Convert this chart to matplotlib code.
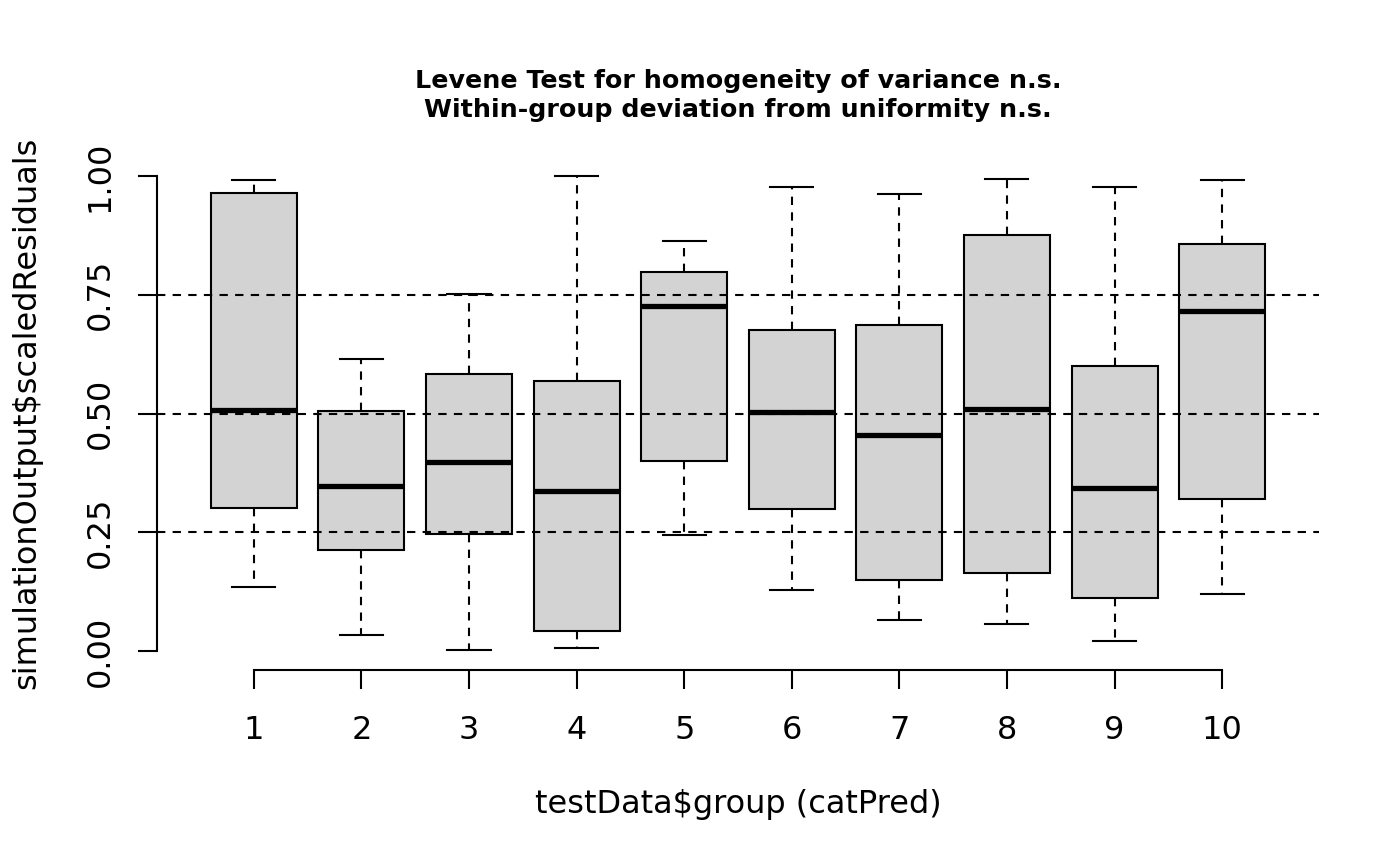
import matplotlib
matplotlib.use("Agg")
import matplotlib.pyplot as plt

# box statistics per group
groups = [1, 2, 3, 4, 5, 6, 7, 8, 9, 10]
whisker_low = [0.135, 0.034, 0.002, 0.006, 0.244, 0.128, 0.065, 0.057, 0.021, 0.120]
q1 = [0.301, 0.213, 0.246, 0.042, 0.400, 0.299, 0.149, 0.164, 0.112, 0.320]
medians = [0.507, 0.347, 0.398, 0.337, 0.726, 0.503, 0.455, 0.509, 0.343, 0.716]
q3 = [0.964, 0.505, 0.583, 0.568, 0.798, 0.676, 0.686, 0.876, 0.600, 0.857]
whisker_high = [0.992, 0.615, 0.752, 1.000, 0.863, 0.977, 0.962, 0.994, 0.977, 0.992]
y_ticks = [0.0, 0.25, 0.5, 0.75, 1.0]
ref_lines = [0.25, 0.5, 0.75]

plt.rcParams['font.family'] = ['DejaVu Sans']

fig = plt.figure(figsize=(14, 8.66), dpi=100)
ax = fig.add_axes([157 / 1400, 1 - 670 / 866, (1319 - 157) / 1400, (670 - 157) / 866])

stats = []
for g, lo, a, m, b, hi in zip(groups, whisker_low, q1, medians, q3, whisker_high):
    stats.append({'label': str(g), 'whislo': lo, 'q1': a, 'med': m, 'q3': b, 'whishi': hi, 'fliers': []})

ax.bxp(stats, positions=groups, widths=0.8, capwidths=0.4, patch_artist=True, showfliers=False,
       boxprops=dict(facecolor='#d3d3d3', edgecolor='black', linewidth=1.5),
       medianprops=dict(color='black', linewidth=3.8, solid_capstyle='butt'),
       whiskerprops=dict(color='black', linewidth=1.5, linestyle=(0, (4, 3.5))),
       capprops=dict(color='black', linewidth=1.5))

for v in ref_lines:
    ax.axhline(v, color='black', linewidth=1.5, linestyle=(0, (4, 3.5)), zorder=5)

ax.set_xlim(0.1, 10.9)
ax.set_ylim(-0.04, 1.04)

for s in ['top', 'right']:
    ax.spines[s].set_visible(False)
ax.spines['left'].set_bounds(0, 1)
ax.spines['bottom'].set_bounds(1, 10)
ax.spines['left'].set_linewidth(1.5)
ax.spines['bottom'].set_linewidth(1.5)

ax.set_xticks(groups)
ax.set_xticklabels([str(g) for g in groups])
ax.set_yticks(y_ticks)
ax.set_yticklabels(['%.2f' % v for v in y_ticks], rotation=90, va='center')
ax.tick_params(axis='both', length=13.7, width=1.5, labelsize=23)
ax.tick_params(axis='x', pad=18.5)
ax.tick_params(axis='y', pad=16)

fig.text(738 / 1400, 1 - 804 / 866, 'testData$group (catPred)', ha='center', va='center', fontsize=23)
fig.text(27 / 1400, 1 - 413 / 866, 'simulationOutput$scaledResiduals', ha='center', va='center',
         rotation=90, fontsize=23)
fig.text(738 / 1400, 1 - 81 / 866, 'Levene Test for homogeneity of variance n.s.', ha='center', va='center',
         fontsize=18.3, fontweight='bold')
fig.text(738 / 1400, 1 - 110 / 866, 'Within-group deviation from uniformity n.s.', ha='center', va='center',
         fontsize=18.3, fontweight='bold')

fig.savefig('out.png', dpi=100)
